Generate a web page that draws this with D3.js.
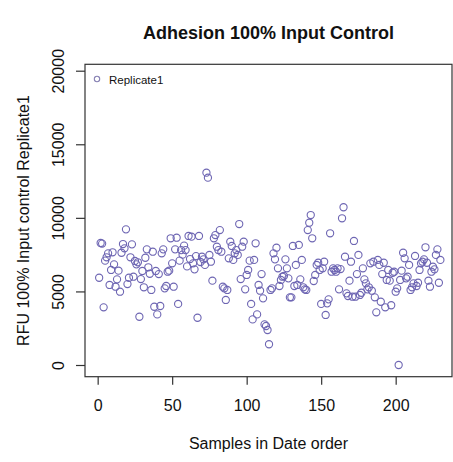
<!DOCTYPE html>
<html>
<head>
<meta charset="utf-8">
<script src="https://cdn.jsdelivr.net/npm/d3@7"></script>
<style>
  html, body { margin: 0; padding: 0; background: #fff; }
  svg { display: block; font-family: "Liberation Sans", Arial, Helvetica, sans-serif; }
</style>
</head>
<body>
<svg id="chart" width="453" height="462"></svg>
<script>
const title = "Adhesion 100% Input Control";
const xLabel = "Samples in Date order";
const yLabel = "RFU 100% Input control Replicate1";
const seriesName = "Replicate1";
const xTicks = [0, 50, 100, 150, 200];
const yTicks = [0, 5000, 10000, 15000, 20000];
const replicate1 = [
  5930, 8290, 8250, 3920, 7090, 7320, 7590, 5440, 6460, 7660,
  6840, 5320, 5820, 6410, 4980, 7630, 8220, 7930, 9220, 5500,
  5930, 7320, 8200, 6000, 7070, 6840, 6980, 3280, 5840, 6390,
  5280, 7290, 7860, 6640, 6200, 5100, 7700, 3960, 6390, 3440,
  6180, 4010, 7590, 7860, 5210, 5370, 6340, 6410, 8610, 6910,
  5320, 7860, 8650, 4150, 7090, 7810, 7500, 8110, 7810, 6700,
  8770, 7200, 8720, 6910, 6500, 7400, 3210, 8770, 7000,
  7360, 7180, 6800, 13070, 12730, 7480, 7020, 5730, 8610, 8830,
  8040, 7810, 9170, 7700, 5320, 5210, 4420, 5100, 7250, 8380,
  8090, 7140, 7590, 7810, 7480, 9580, 5840, 8040, 8380, 5140,
  6120, 6460, 7090, 4150, 3100, 7140, 8270, 3440, 5440, 5050,
  6180, 4530, 2760, 2650, 2380, 1410, 5100, 5210, 7590, 7180,
  7970, 6570, 5370, 5780, 6000, 6050, 7180, 6570, 5890, 4600,
  4600, 8090, 5370, 6800, 5440, 8160, 5820, 7140, 5280, 5140,
  5100, 9170, 9670, 10190, 8610, 5710, 6120, 6800, 6950, 6460,
  4150, 6570, 7020, 3400, 4190,
  4460, 8950, 6340, 6570, 6460, 6340, 6570, 5140, 6520, 9970,
  10720, 7360, 4870, 4690, 5730, 7020, 4640, 8430, 4640, 6180,
  7480, 4760, 4910, 6570, 5820, 5550, 5140, 5280, 6910, 5050,
  7020, 4600, 3580, 7140, 6800, 4300, 6180, 6950, 3920, 5780,
  6460, 5730, 4060, 6270, 6340, 4980, 5210,
  0,
  5780, 6410, 7630, 7250, 5890, 6000, 6800, 5100, 5280, 5550,
  7410, 5370, 5590, 6460, 6910, 7020, 7180, 8000, 6950, 5730,
  5320, 6340, 6680, 6500, 7480, 7860, 5590, 7140
];

const svg = d3.select("#chart");
const font = '"Liberation Sans", Arial, Helvetica, sans-serif';

const x = d3.scaleLinear().domain([-8.5, 237.8]).range([85, 452]);
const y = d3.scaleLinear().domain([-795, 20435]).range([376.7, 64.3]);

const axisColor = "#333";

// points
svg.append("g")
  .selectAll("circle")
  .data(replicate1)
  .join("circle")
  .attr("cx", (d, i) => x(i + 1))
  .attr("cy", d => y(d))
  .attr("r", 3.6)
  .attr("fill", "none")
  .attr("stroke", "#6e66b3")
  .attr("stroke-width", 1.1);

// box
const [x0, x1] = x.range();
const [y0, y1] = y.range();
svg.append("rect")
  .attr("x", x0).attr("y", y1)
  .attr("width", x1 - x0).attr("height", y0 - y1)
  .attr("fill", "none").attr("stroke", axisColor).attr("stroke-width", 1.2);

// x axis
const gx = svg.append("g")
  .attr("transform", `translate(0,${y0})`)
  .call(d3.axisBottom(x).tickValues(xTicks).tickSize(8).tickPadding(14.6).tickFormat(d3.format("d")));
gx.select(".domain").remove();
gx.selectAll("line").attr("stroke", axisColor).attr("stroke-width", 1.2);
gx.selectAll("text").attr("font-size", 16).attr("font-family", font).attr("fill", "#111");

// y axis
const gy = svg.append("g")
  .attr("transform", `translate(${x0},0)`)
  .call(d3.axisLeft(y).tickValues(yTicks).tickSize(9).tickFormat(d3.format("d")));
gy.select(".domain").remove();
gy.selectAll("line").attr("stroke", axisColor).attr("stroke-width", 1.2);
gy.selectAll("text")
  .attr("font-size", 16).attr("font-family", font).attr("fill", "#111")
  .attr("transform", "rotate(-90)")
  .attr("x", 0).attr("y", -21.3).attr("dy", null)
  .attr("text-anchor", "middle");

// title
svg.append("text")
  .attr("x", (x0 + x1) / 2).attr("y", 39)
  .attr("text-anchor", "middle")
  .attr("font-size", 18).attr("font-weight", "bold").attr("fill", "#111")
  .text(title);

// x label
svg.append("text")
  .attr("x", (x0 + x1) / 2).attr("y", 449)
  .attr("text-anchor", "middle")
  .attr("font-size", 16).attr("fill", "#111")
  .text(xLabel);

// y label
svg.append("text")
  .attr("transform", `translate(29,${(y0 + y1) / 2}) rotate(-90)`)
  .attr("text-anchor", "middle")
  .attr("font-size", 16).attr("fill", "#111")
  .text(yLabel);

// legend
const lg = svg.append("g").attr("transform", "translate(97,79)");
lg.append("circle").attr("r", 2.7).attr("fill", "none")
  .attr("stroke", "#8680b3").attr("stroke-width", 1.1);
lg.append("text").attr("x", 12).attr("y", 4.6)
  .attr("font-size", 11.5).attr("fill", "#111")
  .text(seriesName);
</script>
</body>
</html>
